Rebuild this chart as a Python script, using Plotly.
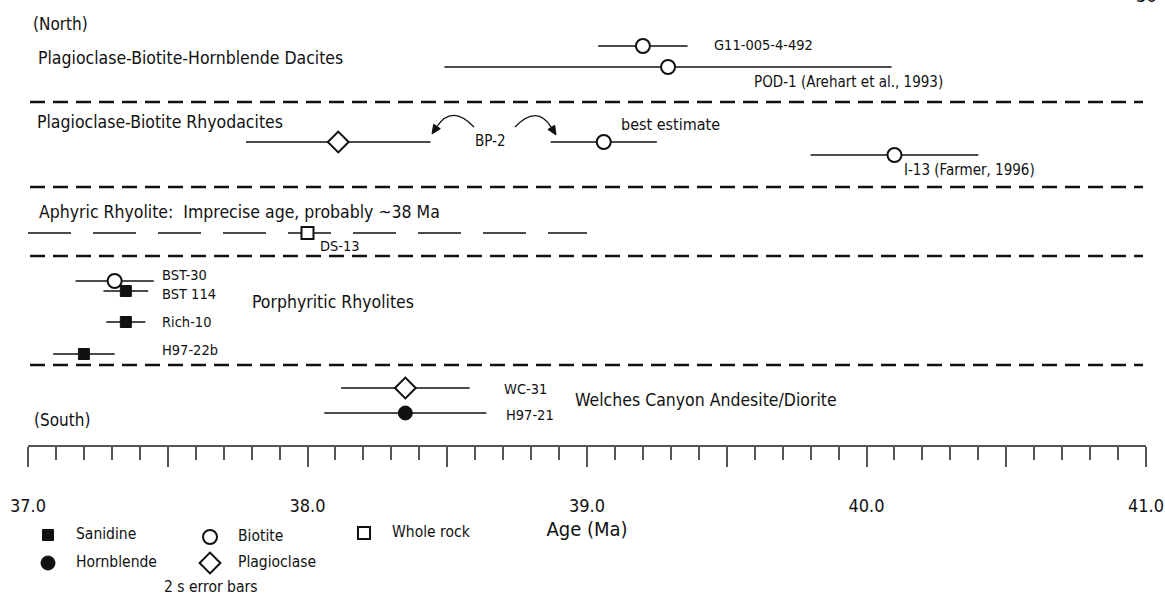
import math
import plotly.graph_objects as go

# ---------------------------------------------------------------------------
# 40Ar/39Ar sample ages (Ma) with 2-sigma errors, north (top) to south (bottom)
# ---------------------------------------------------------------------------
samples = ["G11-005-4-492", "POD-1", "BP-2", "BP-2", "I-13", "DS-13",
           "BST-30", "BST 114", "Rich-10", "H97-22b", "WC-31", "H97-21"]
minerals = ["Biotite", "Biotite", "Plagioclase", "Biotite", "Biotite", "Whole rock",
            "Biotite", "Sanidine", "Sanidine", "Sanidine", "Plagioclase", "Hornblende"]
ages = [39.20, 39.29, 38.11, 39.06, 40.10, 38.00,
        37.31, 37.35, 37.35, 37.20, 38.35, 38.35]
errors_2s = [0.16, 0.80, 0.33, 0.19, 0.30, 1.00,
             0.14, 0.08, 0.07, 0.11, 0.23, 0.29]
# samples whose age is only loosely constrained (drawn with a broken bar)
imprecise = ["DS-13"]

sample_labels = ["G11-005-4-492", "POD-1 (Arehart et al., 1993)", "BP-2",
                 "best estimate", "I-13 (Farmer, 1996)", "DS-13", "BST-30",
                 "BST 114", "Rich-10", "H97-22b", "WC-31", "H97-21"]

group_names = ["Plagioclase-Biotite-Hornblende Dacites",
               "Plagioclase-Biotite Rhyodacites",
               "Aphyric Rhyolite:  Imprecise age, probably ~38 Ma",
               "Porphyritic Rhyolites",
               "Welches Canyon Andesite/Diorite"]

legend_minerals = ["Sanidine", "Biotite", "Whole rock", "Hornblende", "Plagioclase"]

age_ticks = [37.0, 37.5, 38.0, 38.5, 39.0, 39.5, 40.0, 40.5, 41.0]
age_tick_text = ["37.0", "", "38.0", "", "39.0", "", "40.0", "", "41.0"]

# ---------------------------------------------------------------------------
# page geometry (pixels) -- the y axis runs in page rows, top = 0
# ---------------------------------------------------------------------------
W, H = 1165, 607
X0_PX, PX_PER_MA = 28, 279.5
AGE_MIN, AGE_MAX = 37.0, 41.0
AXIS_Y = 446
FONT = "Liberation Sans Narrow, Arial Narrow, DejaVu Sans Condensed, sans-serif"
INK = "#111111"
AXIS_GREY = "#555555"


def px_to_age(px):
    return AGE_MIN + (px - X0_PX) / PX_PER_MA


row_y = [46, 67, 142, 142, 155, 233, 281, 291, 322, 354, 388, 413]
label_xy = [(712, 45), (752, 82), (473, 141), (619, 124), (902, 170), (318, 246),
            (160, 275), (160, 294), (160, 322), (160, 350), (502, 389), (504, 415)]
label_size = [14.5, 15, 15, 16, 15, 14.5, 14.5, 14.5, 14.5, 14.5, 14.5, 14.5]
group_xy = [(36, 58), (35, 122), (37, 212), (250, 302), (573, 400)]
separator_y = [102, 187, 256, 365]
legend_xy = [(48, 535), (210, 537), (364, 533), (48, 563), (210, 563)]

mineral_marker = {
    "Sanidine": dict(symbol="square", size=11, color=INK, line=dict(color=INK, width=1)),
    "Hornblende": dict(symbol="circle", size=14, color=INK, line=dict(color=INK, width=1)),
    "Biotite": dict(symbol="circle", size=14, color="white", line=dict(color=INK, width=2)),
    "Plagioclase": dict(symbol="diamond", size=16, color="white", line=dict(color=INK, width=2)),
    "Whole rock": dict(symbol="square", size=12, color="white", line=dict(color=INK, width=2)),
}

fig = go.Figure()

# samples: error bar + mineral symbol
for name, mineral, age, err, y in zip(samples, minerals, ages, errors_2s, row_y):
    broken = name in imprecise
    if broken:
        fig.add_trace(go.Scatter(
            x=[age - err, age + err], y=[y, y], mode="lines",
            line=dict(color=INK, width=1.3, dash="43px,22px"),
            hoverinfo="skip", showlegend=False))
    fig.add_trace(go.Scatter(
        x=[age], y=[y], mode="markers", name=name,
        marker=mineral_marker[mineral],
        error_x=dict(type="data", array=[0 if broken else err], symmetric=True,
                     width=0, thickness=1.3, color=INK),
        cliponaxis=False, showlegend=False,
        hovertemplate=f"{name} ({mineral})<br>%{{x:.2f}} ± {err:.2f} Ma<extra></extra>"))

# key of mineral symbols
for mineral, (lx, ly) in zip(legend_minerals, legend_xy):
    fig.add_trace(go.Scatter(
        x=[px_to_age(lx)], y=[ly], mode="markers",
        marker=mineral_marker[mineral], cliponaxis=False,
        showlegend=False, hoverinfo="skip"))

shapes = []
annotations = []

# dashed separators between the rock groups
for sy in separator_y:
    shapes.append(dict(type="line", xref="x", yref="y",
                       x0=px_to_age(30), x1=px_to_age(1143), y0=sy, y1=sy,
                       line=dict(color=INK, width=2.6, dash="15px,8px")))


# curved arrows from the BP-2 label to its two ages
def curved_arrow(p0, ctrl, tip, head=9, half=4):
    dx, dy = tip[0] - ctrl[0], tip[1] - ctrl[1]
    n = math.hypot(dx, dy)
    ux, uy = dx / n, dy / n
    bx, by = tip[0] - head * ux, tip[1] - head * uy
    px_, py_ = -uy, ux
    curve = (f"M {px_to_age(p0[0])},{p0[1]} Q {px_to_age(ctrl[0])},{ctrl[1]} "
             f"{px_to_age(bx)},{by}")
    tri = (f"M {px_to_age(tip[0])},{tip[1]} "
           f"L {px_to_age(bx + half * px_)},{by + half * py_} "
           f"L {px_to_age(bx - half * px_)},{by - half * py_} Z")
    return [dict(type="path", xref="x", yref="y", path=curve,
                 line=dict(color=INK, width=1.3)),
            dict(type="path", xref="x", yref="y", path=tri,
                 fillcolor=INK, line=dict(color=INK, width=1))]


shapes += curved_arrow((474, 127), (452, 104), (432, 134))
shapes += curved_arrow((515, 127), (537, 104), (556, 135))


def text(s, x, y, size, anchor="left"):
    # x, y in page pixels (paper coordinates, so nothing is hidden off-range)
    annotations.append(dict(text=s, x=x / W, xref="paper", y=1 - y / H, yref="paper",
                            xanchor=anchor, yanchor="middle", showarrow=False,
                            font=dict(family=FONT, size=size, color=INK)))


for s, (tx, ty) in zip(group_names, group_xy):
    text(s, tx, ty, 17.5)
for s, (tx, ty), fs in zip(sample_labels, label_xy, label_size):
    text(s, tx, ty, fs)

text("(North)", 31, 24, 17)
text("(South)", 32, 420, 17)
# page number, mostly cut off by the top edge of the page
text("36", 1146, -4, 18, anchor="center")

for s, (lx, ly) in zip(legend_minerals, legend_xy):
    text(s, lx + 26, ly - 1, 15.5)
text("2 s error bars", 162, 587, 15.5)

fig.update_layout(
    width=W, height=H,
    margin=dict(l=0, r=0, t=0, b=0, autoexpand=False),
    paper_bgcolor="white", plot_bgcolor="white",
    shapes=shapes, annotations=annotations,
    font=dict(family=FONT, color=INK),
    xaxis=dict(
        range=[AGE_MIN, AGE_MAX],
        domain=[X0_PX / W, (X0_PX + (AGE_MAX - AGE_MIN) * PX_PER_MA) / W],
        anchor="free", position=1 - AXIS_Y / H, automargin=False,
        showline=True, linecolor=AXIS_GREY, linewidth=1.6,
        showgrid=False, zeroline=False,
        tickmode="array", tickvals=age_ticks, ticktext=age_tick_text,
        ticks="outside", ticklen=20, tickwidth=1.5, tickcolor=AXIS_GREY,
        ticklabelstandoff=24,
        tickfont=dict(family=FONT, size=18, color=INK),
        minor=dict(dtick=0.1, tick0=37.0, ticks="outside", ticklen=13,
                   tickwidth=1.5, tickcolor=AXIS_GREY, showgrid=False),
        title=dict(text="Age (Ma)", standoff=6,
                   font=dict(family=FONT, size=20, color=INK)),
        fixedrange=True,
    ),
    yaxis=dict(range=[H, 0], domain=[0, 1], visible=False, fixedrange=True,
               automargin=False),
)

fig.write_html("out.html")
